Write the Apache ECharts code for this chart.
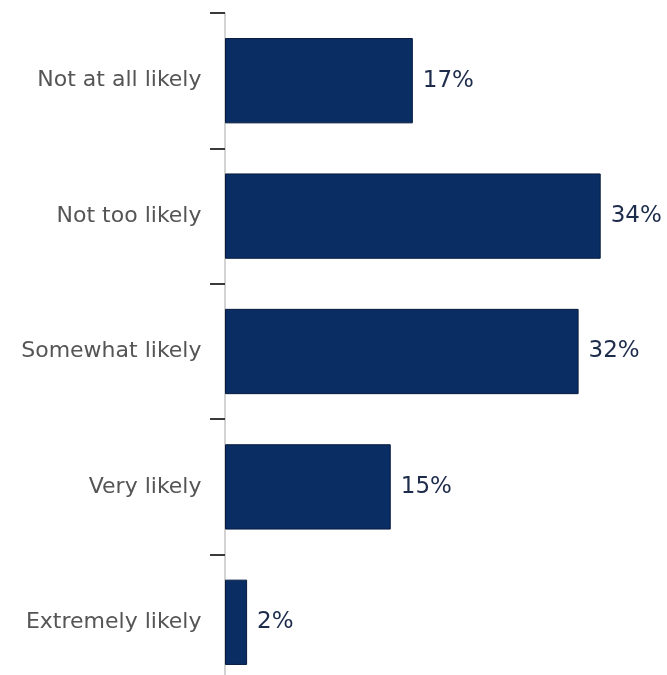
<!DOCTYPE html>
<html>
<head>
<meta charset="utf-8">
<style>
  html, body { margin: 0; padding: 0; background: #ffffff; overflow: hidden; }
  /* the canvas is a bit taller than the window so the last band runs off the bottom edge */
  #chart { width: 667px; height: 690px; }
</style>
<script src="https://cdn.jsdelivr.net/npm/echarts@6/dist/echarts.min.js"></script>
</head>
<body>
<div id="chart"></div>
<script>
// Likelihood responses, top to bottom
const categories = ['Not at all likely', 'Not too likely', 'Somewhat likely', 'Very likely', 'Extremely likely'];
// Share of respondents, percent
const shares = [17, 34, 32, 15, 2];

const chart = echarts.init(document.getElementById('chart'), null, { renderer: 'canvas' });

chart.setOption({
  animation: false,
  backgroundColor: '#ffffff',
  grid: { left: 225, right: 0, top: 13, bottom: 0, containLabel: false },
  xAxis: {
    type: 'value',
    min: 0,
    max: 40,
    show: false
  },
  yAxis: {
    type: 'category',
    data: categories,
    inverse: true,
    offset: 2.5, // small gap between the axis line and the bars
    axisLine: { show: true, lineStyle: { color: '#c4c4c4', width: 1.5 } },
    axisTick: { show: true, length: 15, lineStyle: { color: '#3a3a3a', width: 2 } },
    axisLabel: {
      margin: 21,
      color: '#555555',
      fontFamily: 'DejaVu Sans',
      fontSize: 22
    }
  },
  series: [{
    type: 'bar',
    data: shares,
    barCategoryGap: '37%',
    itemStyle: { color: '#0a2d64', borderColor: '#061a3e', borderWidth: 1 },
    label: {
      show: true,
      position: 'right',
      distance: 10,
      formatter: p => p.value + '%',
      color: '#1e2c4c',
      fontFamily: 'DejaVu Sans',
      fontSize: 23
    }
  }]
});
</script>
</body>
</html>
